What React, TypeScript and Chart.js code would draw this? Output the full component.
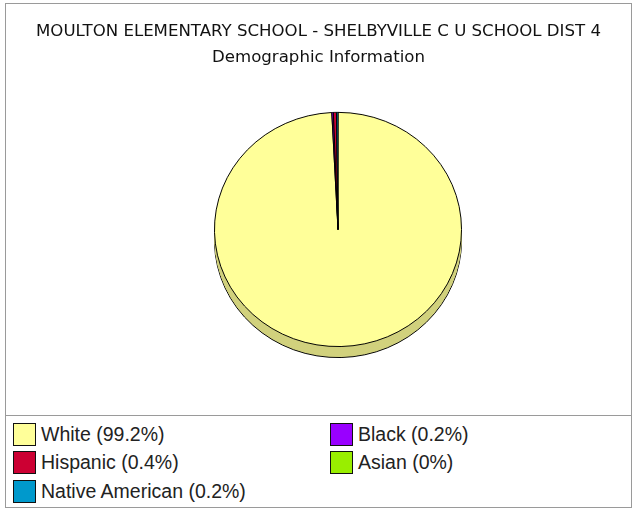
import React, { useEffect, useRef } from "react";
import { Chart, registerables } from "chart.js";

Chart.register(...registerables);

const titleLines = ["MOULTON ELEMENTARY SCHOOL - SHELBYVILLE C U SCHOOL DIST 4", "Demographic Information"];
const categories = ["White", "Black", "Hispanic", "Asian", "Native American"];
const percents = [99.2, 0.2, 0.4, 0, 0.2];
const colors = ["#ffff99", "#9900ff", "#cc0033", "#99ee00", "#0099cc"];

const PIE_SHIFT_X = 19.5;
const PIE_SQUASH = 0.948;
const DEPTH = 11;

const pie3d = {
  id: "pie3d",
  beforeDatasetsDraw(chart: any) {
    const ctx = chart.ctx;
    const meta = chart.getDatasetMeta(0);
    const first = meta.data[0];
    if (!first) return;
    const cx = first.x;
    const cy = first.y;
    ctx.save();
    ctx.translate(PIE_SHIFT_X, 0);
    ctx.translate(cx, cy);
    ctx.scale(1, PIE_SQUASH);
    ctx.translate(-cx, -cy);
    for (let k = DEPTH; k >= 1; k--) {
      ctx.save();
      ctx.translate(0, k / PIE_SQUASH);
      ctx.filter = "brightness(0.82)";
      for (const arc of meta.data) {
        const o = arc.options;
        const bw = o.borderWidth;
        o.borderWidth = k === DEPTH ? bw : 0;
        arc.draw(ctx);
        o.borderWidth = bw;
      }
      ctx.restore();
    }
  },
  afterDatasetsDraw(chart: any) {
    chart.ctx.restore();
  },
};

export default function App() {
  const ref = useRef<HTMLCanvasElement | null>(null);
  useEffect(() => {
    document.body.style.margin = "0";
    if (!ref.current) return;
    const chart = new Chart(ref.current, {
      type: "pie",
      data: {
        labels: categories,
        datasets: [
          {
            data: percents,
            backgroundColor: colors,
            borderColor: "#000000",
            borderWidth: 1,
          },
        ],
      },
      options: {
        animation: false,
        responsive: false,
        events: [],
        rotation: 0,
        layout: { padding: { top: 0, bottom: 61.5, left: 0, right: 0 } },
        plugins: {
          legend: { display: false },
          tooltip: { enabled: false },
          title: {
            display: true,
            text: titleLines[0],
            color: "#111111",
            font: { family: "DejaVu Sans", size: 16.6, weight: "normal", lineHeight: 1.2 },
            padding: { top: 19, bottom: 0 },
          },
          subtitle: {
            display: true,
            text: titleLines[1],
            color: "#111111",
            font: { family: "DejaVu Sans", size: 16.6, weight: "normal", lineHeight: 1.2 },
            padding: { top: 6, bottom: 37.6 },
          },
        },
      },
      plugins: [pie3d],
    });
    return () => chart.destroy();
  }, []);

  const rows: number[][] = [];
  for (let i = 0; i < categories.length; i += 2) {
    rows.push([i, i + 1].filter((j) => j < categories.length));
  }

  return (
    <div style={{ position: "relative", width: 634, height: 510, background: "#ffffff" }}>
      <div
        style={{
          position: "absolute",
          left: 5,
          top: 3,
          width: 627,
          height: 505,
          border: "1px solid #9a9a9a",
          boxSizing: "border-box",
        }}
      />
      <canvas
        ref={ref}
        width={627}
        height={412}
        style={{ position: "absolute", left: 5, top: 3, width: 627, height: 412 }}
      />
      <div
        style={{ position: "absolute", left: 5, top: 415, width: 627, height: 1, background: "#9a9a9a" }}
      />
      <div
        style={{
          position: "absolute",
          left: 0,
          top: 421,
          width: 634,
          fontFamily: "Liberation Sans, Arial, sans-serif",
          fontSize: 19.5,
          color: "#222222",
        }}
      >
        {rows.map((r, ri) => (
          <div key={ri} style={{ position: "relative", height: 28.7 }}>
            {r.map((j, ci) => (
              <div
                key={j}
                style={{
                  position: "absolute",
                  left: ci === 0 ? 13 : 330,
                  top: 1,
                  height: 24,
                  display: "flex",
                  alignItems: "center",
                  whiteSpace: "nowrap",
                }}
              >
                <span
                  style={{
                    display: "inline-block",
                    width: 21,
                    height: 21,
                    background: colors[j],
                    border: "1.5px solid #111",
                    marginRight: 5,
                  }}
                />
                <span>{`${categories[j]} (${percents[j]}%)`}</span>
              </div>
            ))}
          </div>
        ))}
      </div>
    </div>
  );
}
